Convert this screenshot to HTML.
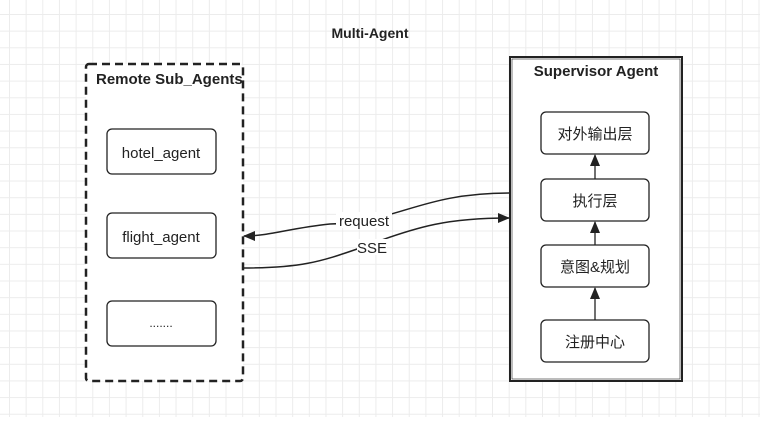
<!DOCTYPE html>
<html><head><meta charset="utf-8"><style>
html,body{margin:0;padding:0;background:#fff}
body{width:760px;height:417px;overflow:hidden;
background-image:linear-gradient(#ececec 1px,transparent 1px),linear-gradient(90deg,#ececec 1px,transparent 1px);
background-size:16.67px 16.67px;background-position:9px 14px;}
svg text{font-family:"Liberation Sans","Noto Sans CJK SC",sans-serif;fill:#222}
</style></head><body>
<svg width="760" height="417" viewBox="0 0 760 417" xmlns="http://www.w3.org/2000/svg">
<defs>
<marker id="a" markerWidth="12" markerHeight="10" refX="11" refY="5" orient="auto" markerUnits="userSpaceOnUse">
<path d="M0,0 L12,5 L0,10 z" fill="#222"/></marker>
</defs>
<text x="370" y="38" text-anchor="middle" font-size="14" font-weight="bold">Multi-Agent</text>
<rect x="86" y="64" width="157" height="317" rx="3" fill="#fff" stroke="#222" stroke-width="2.5" stroke-dasharray="8 5"/>
<text x="96" y="84" font-size="15" font-weight="bold">Remote Sub_Agents</text>
<rect x="107" y="129" width="109" height="45" rx="5" fill="#fff" stroke="#222" stroke-width="1.3"/>
<text x="161" y="158" text-anchor="middle" font-size="15">hotel_agent</text>
<rect x="107" y="213" width="109" height="45" rx="5" fill="#fff" stroke="#222" stroke-width="1.3"/>
<text x="161" y="242" text-anchor="middle" font-size="15">flight_agent</text>
<rect x="107" y="301" width="109" height="45" rx="5" fill="#fff" stroke="#222" stroke-width="1.3"/>
<text x="161" y="327" text-anchor="middle" font-size="12">.......</text>

<rect x="510" y="57" width="172" height="324" fill="#fff" stroke="#222" stroke-width="2"/>
<rect x="512" y="59" width="168" height="320" fill="none" stroke="#222" stroke-width="0.6"/>
<text x="596" y="76" text-anchor="middle" font-size="15" font-weight="bold">Supervisor Agent</text>
<rect x="541" y="112" width="108" height="42" rx="5" fill="#fff" stroke="#222" stroke-width="1.3"/>
<text x="595" y="139" text-anchor="middle" font-size="15">对外输出层</text>
<rect x="541" y="179" width="108" height="42" rx="5" fill="#fff" stroke="#222" stroke-width="1.3"/>
<text x="595" y="206" text-anchor="middle" font-size="15">执行层</text>
<rect x="541" y="245" width="108" height="42" rx="5" fill="#fff" stroke="#222" stroke-width="1.3"/>
<text x="595" y="272" text-anchor="middle" font-size="15">意图&amp;规划</text>
<rect x="541" y="320" width="108" height="42" rx="5" fill="#fff" stroke="#222" stroke-width="1.3"/>
<text x="595" y="347" text-anchor="middle" font-size="15">注册中心</text>
<line x1="595" y1="179" x2="595" y2="155" stroke="#222" stroke-width="1.3" marker-end="url(#a)"/>
<line x1="595" y1="245" x2="595" y2="222" stroke="#222" stroke-width="1.3" marker-end="url(#a)"/>
<line x1="595" y1="320" x2="595" y2="288" stroke="#222" stroke-width="1.3" marker-end="url(#a)"/>

<path d="M510,193 C420,193 400,222 330,224 C290,228 270,236 244,236" fill="none" stroke="#222" stroke-width="1.5" marker-end="url(#a)"/>
<path d="M243,268 C300,268 320,262 360,248 C420,225 450,218 509,218" fill="none" stroke="#222" stroke-width="1.5" marker-end="url(#a)"/>
<rect x="336" y="212" width="56" height="16" fill="#fff"/>
<text x="364" y="226" text-anchor="middle" font-size="15">request</text>
<rect x="357" y="239" width="30" height="16" fill="#fff"/>
<text x="372" y="253" text-anchor="middle" font-size="15">SSE</text>
</svg>
</body></html>
